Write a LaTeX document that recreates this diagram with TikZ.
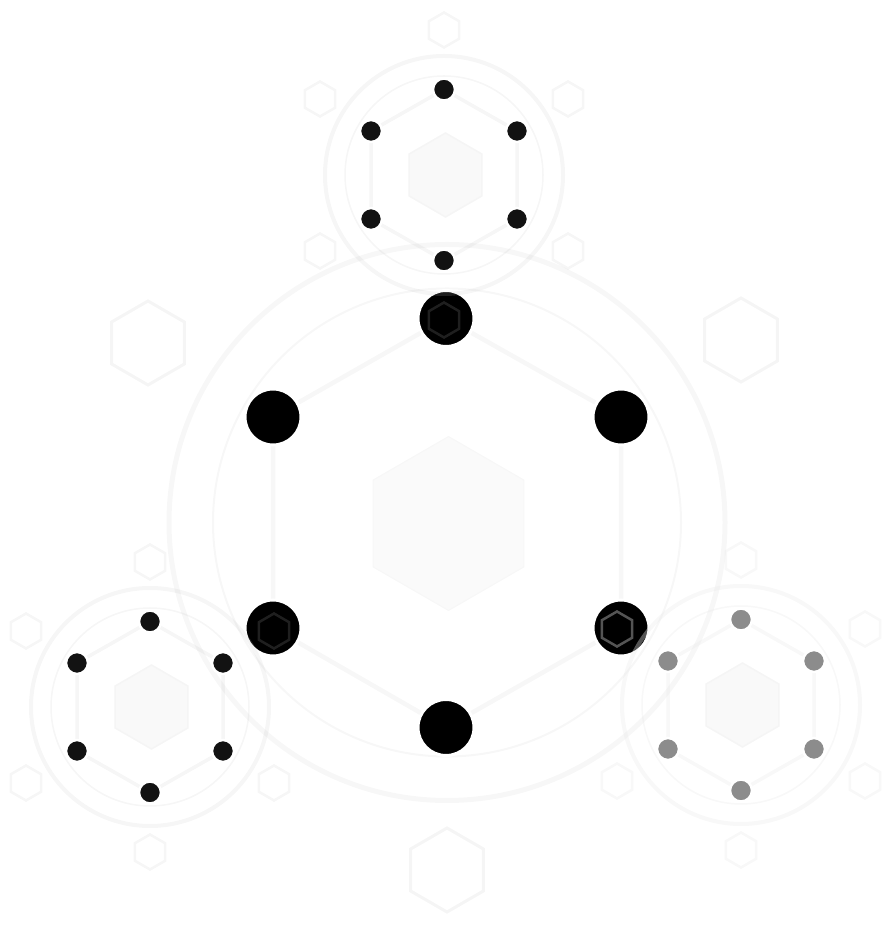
\documentclass[tikz,border=0pt]{standalone}
\usepackage{tkz-euclide}
\begin{document}
\begin{tikzpicture}[x=1pt,y=1pt]
            \useasboundingbox (0,0) rectangle (890,931);
            \tkzDefPoint(447,408.5){O}
            \tkzDefPoint(444,756){T}
            \tkzDefPoint(150,224){L}
            \tkzDefPoint(741,226){R}
            \tkzDefPoint(148,588){H1}
            \tkzDefPoint(741,591){H2}
            \tkzDefPoint(447,61){H3}
            \tkzDefShiftPoint[O](-1,204){M1}
            \tkzDefShiftPoint[O](-174,105.5){M2}
            \tkzDefShiftPoint[O](-174,-105.5){M3}
            \tkzDefShiftPoint[O](-1,-205){M4}
            \tkzDefShiftPoint[O](174,-105.5){M5}
            \tkzDefShiftPoint[O](174,105.5){M6}
            % big ring
            \draw[line width=5,color=black!3] (O) circle[radius=278];
            \draw[line width=2,color=black!3] (O) circle[radius=234];
            \tkzDrawPolygon[line width=4.5,color=black!3](M1,M2,M3,M4,M5,M6)
            \filldraw[fill=black!2,draw=black!3,line width=1,shift={(448.5,407.5)}]
              (90:87) \foreach \a in {150,210,...,390}{ -- (\a:87)} -- cycle;
            \foreach \h in {H1,H2,H3}
              \draw[line width=3,color=black!4,shift={(\h)}]
                (90:42) \foreach \a in {150,210,...,390}{ -- (\a:42)} -- cycle;
            \foreach \i in {1,...,6}
              \filldraw[fill=black,draw=white,line width=3] (M\i) circle[radius=28];
            % small rings
            \foreach \u/\c/\op/\d in {T/black!23/0.16/black!93,L/black!23/0.16/black!93,R/black!8/0.36/black!45}{
              \begin{scope}[shift={(\u)}]
                \draw[line width=4,color=\c,draw opacity=\op] (0,0) circle[radius=119];
                \draw[line width=1.5,color=\c,draw opacity=\op] (0,0) circle[radius=99];
                \draw[line width=3.5,color=\c,draw opacity=\op]
                  (0,85.5) -- (-73,44) -- (-73,-44) -- (0,-85.5) -- (73,-44) -- (73,44) -- cycle;
                \filldraw[fill=black!2.5,draw=black!4,line width=1.5,shift={(1.5,0)}]
                  (90:42) \foreach \a in {150,210,...,390}{ -- (\a:42)} -- cycle;
                \foreach \p in {(0,145),(-124,76),(-124,-76),(0,-145),(124,-76),(124,76)}
                  \draw[line width=2.5,color=\c,draw opacity=\op,shift={\p}]
                    (90:17.5) \foreach \a in {150,210,...,390}{ -- (\a:17.5)} -- cycle;
                \foreach \p in {(0,85.5),(-73,44),(-73,-44),(0,-85.5),(73,-44),(73,44)}
                  \filldraw[fill=\d,draw=white,line width=2.5] \p circle[radius=11];
              \end{scope}}
        \end{tikzpicture}
\end{document}
